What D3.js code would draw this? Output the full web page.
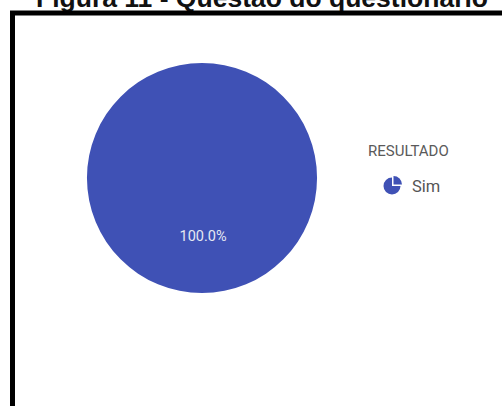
<!DOCTYPE html>
<html>
<head>
<meta charset="utf-8">
<script src="https://cdn.jsdelivr.net/npm/d3@7"></script>
<style>
  body { margin: 0; background: #fff; }
</style>
</head>
<body>
<script>
// data
var categories = ["Sim"];
var values = [100];
var legendTitle = "RESULTADO";
var figTitle = "Figura 11 - Questão do questionário";

var width = 502;
var height = 406;

var svg = d3.select("body").append("svg")
    .attr("width", width)
    .attr("height", height);

// title, cut off by the top of the page (as in the scanned figure)
svg.append("text")
    .attr("x", 262)
    .attr("y", 7)
    .attr("text-anchor", "middle")
    .style("font-family", "Liberation Sans, Arial, sans-serif")
    .style("font-weight", "bold")
    .style("font-size", "26.5px")
    .attr("fill", "#111")
    .text(figTitle);

// black frame
svg.append("rect")
    .attr("x", 12.5)
    .attr("y", 13)
    .attr("width", 700)
    .attr("height", 700)
    .attr("fill", "none")
    .attr("stroke", "#000")
    .attr("stroke-width", 5);

var colors = d3.scaleOrdinal().domain(categories).range(["#3f51b5"]);

var pieData = categories.map(function(c, i){ return {name: c, value: values[i]}; });
var total = d3.sum(values);

var pie = d3.pie().sort(null).value(function(d){ return d.value; });
var radius = 115;
var arc = d3.arc().innerRadius(0).outerRadius(radius);

var g = svg.append("g").attr("transform", "translate(202,178)");

g.selectAll("path").data(pie(pieData)).enter().append("path")
    .attr("d", arc)
    .attr("fill", function(d){ return colors(d.data.name); });

// percentage label
g.selectAll("text.lbl").data(pie(pieData)).enter().append("text")
    .attr("class", "lbl")
    .attr("x", 1)
    .attr("y", 63)
    .attr("text-anchor", "middle")
    .style("font-family", "Roboto, sans-serif")
    .style("font-size", "14.5px")
    .attr("fill", "#e6e8f2")
    .text(function(d){ return (d.data.value / total * 100).toFixed(1) + "%"; });

// legend
svg.append("text")
    .attr("x", 368)
    .attr("y", 156)
    .style("font-family", "Roboto, sans-serif")
    .style("font-size", "15px")
    .attr("fill", "#5a5a5a")
    .text(legendTitle);

var leg = svg.selectAll("g.leg").data(categories).enter().append("g")
    .attr("class", "leg")
    .attr("transform", function(d, i){ return "translate(392," + (186 + i * 24) + ")"; });

var iconArc = d3.arc().innerRadius(0).outerRadius(8.5);
leg.append("path")
    .attr("d", iconArc({startAngle: Math.PI / 2, endAngle: 2 * Math.PI}))
    .attr("fill", function(d){ return colors(d); });
leg.append("path")
    .attr("transform", "translate(1.5,-1.5)")
    .attr("d", iconArc({startAngle: 0, endAngle: Math.PI / 2}))
    .attr("fill", function(d){ return colors(d); });

leg.append("text")
    .attr("x", 20)
    .attr("y", 6)
    .style("font-family", "Roboto, sans-serif")
    .style("font-size", "16.5px")
    .attr("fill", "#555")
    .text(function(d){ return d; });
</script>
</body>
</html>
